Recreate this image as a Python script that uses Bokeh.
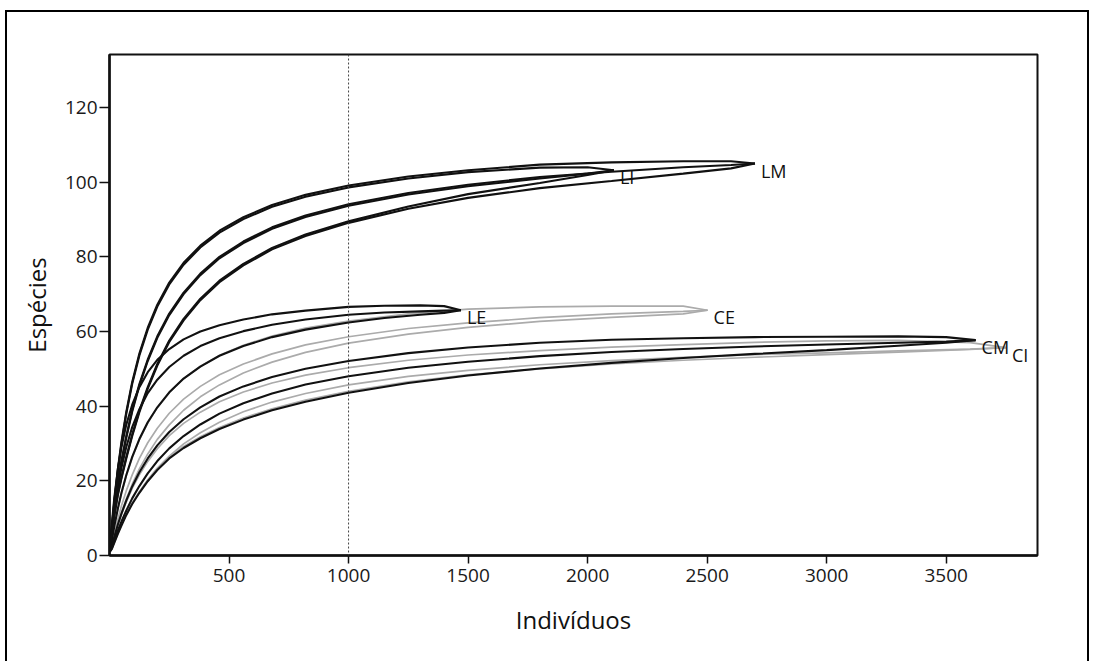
from bokeh.plotting import figure
from bokeh.models import FixedTicker, Span, Range1d, ColumnDataSource
from bokeh.embed import file_html
from bokeh.resources import INLINE
from bokeh.core.properties import value

# ---------------- data ----------------
x_ticks = [500, 1000, 1500, 2000, 2500, 3000, 3500]
y_ticks = [0, 20, 40, 60, 80, 100, 120]
cutoff = 1000

LM_n = [1, 10, 20, 35, 50, 70, 95, 125, 160, 200, 250, 310, 380, 460, 560, 680, 820, 1000, 1250, 1500, 1800, 2100, 2400, 2600, 2700]
LM_upper = [1, 7.8, 14.5, 23.2, 30.4, 38.4, 46.5, 54.1, 61.0, 67.2, 73.1, 78.4, 83.0, 87.0, 90.6, 93.9, 96.6, 99.1, 101.5, 103.2, 104.7, 105.3, 105.6, 105.6, 105.0]
LM_mean = [1, 6.8, 12.5, 19.7, 25.4, 31.9, 39.0, 45.9, 52.5, 58.7, 64.8, 70.4, 75.5, 80.0, 84.1, 87.9, 91.1, 94.1, 97.1, 99.3, 101.4, 102.8, 104.0, 104.6, 105.0]
LM_lower = [1, 5.8, 10.5, 16.2, 20.6, 25.9, 32.0, 38.4, 44.7, 50.9, 57.2, 63.0, 68.4, 73.2, 77.7, 82.0, 85.6, 89.1, 92.9, 95.8, 98.4, 100.3, 102.3, 103.7, 105.0]

LI_n = [1, 10, 20, 35, 50, 70, 95, 125, 160, 200, 250, 310, 380, 460, 560, 680, 820, 1000, 1250, 1500, 1800, 2000, 2110]
LI_upper = [1, 7.3, 14.0, 22.7, 29.9, 37.9, 46.0, 53.6, 60.5, 66.7, 72.6, 77.9, 82.5, 86.5, 90.1, 93.4, 96.1, 98.6, 101.0, 102.7, 103.9, 104.0, 103.2]
LI_mean = [1, 6.4, 12.1, 19.3, 25.0, 31.5, 38.6, 45.5, 52.1, 58.3, 64.4, 70.0, 75.1, 79.6, 83.7, 87.5, 90.7, 93.7, 96.7, 98.9, 101.0, 102.3, 103.2]
LI_lower = [1, 6.2, 10.9, 16.6, 21.0, 26.3, 32.4, 38.8, 45.1, 51.3, 57.6, 63.4, 68.8, 73.6, 78.1, 82.4, 86.0, 89.5, 93.5, 96.8, 99.8, 101.9, 103.2]

LE_n = [1, 10, 20, 35, 50, 70, 95, 125, 160, 200, 250, 310, 380, 460, 560, 680, 820, 1000, 1150, 1300, 1400, 1470]
LE_upper = [1, 8.6, 15.4, 23.1, 29.0, 35.0, 40.4, 45.1, 49.1, 52.4, 55.3, 57.9, 60.0, 61.7, 63.2, 64.6, 65.6, 66.6, 66.9, 67.0, 66.8, 65.7]
LE_mean = [1, 6.4, 11.7, 18.2, 23.5, 29.0, 34.4, 39.2, 43.5, 47.1, 50.5, 53.5, 56.1, 58.2, 60.1, 61.8, 63.2, 64.5, 65.1, 65.4, 65.6, 65.7]
LE_lower = [1, 4.1, 7.8, 12.6, 16.8, 21.5, 26.4, 31.2, 35.7, 39.7, 43.7, 47.4, 50.6, 53.5, 56.1, 58.5, 60.5, 62.4, 63.6, 64.5, 65.0, 65.7]

CE_n = [1, 10, 20, 35, 50, 70, 95, 125, 160, 200, 250, 310, 380, 460, 560, 680, 820, 1000, 1250, 1500, 1800, 2100, 2400, 2502]
CE_upper = [1, 4.0, 7.7, 12.5, 16.6, 21.3, 26.2, 31.0, 35.5, 39.6, 43.6, 47.4, 50.7, 53.6, 56.3, 58.8, 60.9, 62.8, 64.7, 66.0, 66.6, 66.8, 66.8, 65.7]
CE_mean = [1, 3.1, 6.0, 9.8, 13.3, 17.3, 21.6, 26.0, 30.2, 34.1, 38.1, 41.9, 45.3, 48.4, 51.3, 54.0, 56.4, 58.6, 60.8, 62.3, 63.7, 64.7, 65.4, 65.7]
CE_lower = [1, 2.6, 5.1, 8.5, 11.5, 15.1, 19.1, 23.2, 27.2, 31.1, 35.0, 38.9, 42.5, 45.7, 48.9, 51.8, 54.4, 56.9, 59.3, 61.1, 62.7, 63.8, 64.7, 65.7]

CM_n = [1, 10, 20, 35, 50, 70, 95, 125, 160, 200, 250, 310, 380, 460, 560, 680, 820, 1000, 1250, 1500, 1800, 2100, 2400, 2700, 3000, 3300, 3500, 3623]
CM_upper = [1, 2.6, 5.0, 8.3, 11.2, 14.7, 18.5, 22.3, 26.0, 29.5, 33.1, 36.5, 39.7, 42.6, 45.3, 47.8, 50.0, 52.1, 54.2, 55.7, 57.0, 57.8, 58.2, 58.5, 58.6, 58.7, 58.5, 57.7]
CM_mean = [1, 2.1, 4.0, 6.7, 9.1, 12.0, 15.3, 18.6, 22.0, 25.3, 28.7, 32.0, 35.1, 38.0, 40.8, 43.4, 45.8, 48.0, 50.3, 51.9, 53.4, 54.5, 55.3, 56.0, 56.5, 57.0, 57.3, 57.7]
CM_lower = [1, 1.8, 3.4, 5.8, 8.0, 10.8, 13.8, 16.8, 19.9, 22.9, 26.0, 28.8, 31.4, 33.9, 36.4, 38.9, 41.2, 43.6, 46.2, 48.2, 50.1, 51.6, 52.9, 54.0, 55.0, 56.2, 57.0, 57.7]

CI_n = [1, 10, 20, 35, 50, 70, 95, 125, 160, 200, 250, 310, 380, 460, 560, 680, 820, 1000, 1250, 1500, 1800, 2100, 2400, 2700, 3000, 3300, 3600, 3750]
CI_upper = [1, 2.6, 4.9, 8.1, 11.0, 14.3, 18.0, 21.6, 25.2, 28.6, 32.1, 35.4, 38.4, 41.2, 43.8, 46.2, 48.3, 50.3, 52.3, 53.7, 54.9, 55.8, 56.5, 57.1, 57.5, 57.6, 57.0, 55.7]
CI_mean = [1, 1.9, 3.6, 6.0, 8.3, 11.0, 14.0, 17.1, 20.3, 23.4, 26.6, 29.9, 32.9, 35.7, 38.5, 41.1, 43.4, 45.7, 48.0, 49.6, 51.1, 52.2, 53.1, 53.8, 54.3, 54.8, 55.3, 55.7]
CI_lower = [1, 1.8, 3.5, 6.0, 8.2, 11.0, 14.0, 17.0, 20.1, 23.2, 26.3, 29.2, 31.8, 34.3, 36.8, 39.3, 41.6, 44.0, 46.5, 48.4, 50.0, 51.3, 52.3, 53.1, 53.8, 54.5, 55.2, 55.7]

GRAY = "#ababab"
BLACK = "#111111"
sites = [
    ("CE", CE_n, CE_upper, CE_mean, CE_lower, GRAY),
    ("CI", CI_n, CI_upper, CI_mean, CI_lower, GRAY),
    ("LE", LE_n, LE_upper, LE_mean, LE_lower, BLACK),
    ("LI", LI_n, LI_upper, LI_mean, LI_lower, BLACK),
    ("LM", LM_n, LM_upper, LM_mean, LM_lower, BLACK),
    ("CM", CM_n, CM_upper, CM_mean, CM_lower, BLACK),
]

FONT = "Open Sans"

p = figure(frame_width=928, frame_height=501,
           x_range=Range1d(0, 3882), y_range=Range1d(0, 134.2),
           output_backend="svg", toolbar_location=None,
           min_border_left=102, min_border_right=50,
           min_border_top=42, min_border_bottom=106)
p.background_fill_color = "white"
p.border_fill_color = "white"
p.grid.visible = False
p.outline_line_color = BLACK
p.outline_line_width = 2
p.styles = {"margin-left": "5px", "margin-top": "10px",
            "border-left": "2px solid #000", "border-top": "2px solid #000",
            "border-right": "2px solid #000"}

p.xaxis.ticker = FixedTicker(ticks=x_ticks)
p.yaxis.ticker = FixedTicker(ticks=y_ticks)
for ax in (p.xaxis, p.yaxis):
    ax.axis_line_width = 2.5
    ax.axis_line_color = BLACK
    ax.major_tick_line_color = BLACK
    ax.major_tick_line_width = 1.5
    ax.major_tick_in = 0
    ax.minor_tick_in = 0
    ax.minor_tick_out = 0
    ax.major_label_text_font = FONT
    ax.major_label_text_font_size = "19px"
    ax.major_label_text_color = "#1a1a1a"
    ax.axis_label_text_font = FONT
    ax.axis_label_text_font_size = "24px"
    ax.axis_label_text_font_style = "normal"
    ax.axis_label_text_color = BLACK
p.xaxis.major_tick_out = 8
p.yaxis.major_tick_out = 10
p.xaxis.major_label_standoff = 5
p.yaxis.major_label_standoff = 2
p.xaxis.axis_label = "Indivíduos"
p.yaxis.axis_label = "Espécies"
p.xaxis.axis_label_standoff = 18
p.yaxis.axis_label_standoff = 9

p.add_layout(Span(location=cutoff, dimension="height", line_color="#444444",
                  line_width=1, line_dash="2 2"))

lab_x, lab_y, lab_t = [], [], []
for name, n, up, mean, low, col in sites:
    w = 1.7 if col == GRAY else 2.1
    for ys in (up, mean, low):
        p.line(n, ys, line_color=col, line_width=w)
    lab_x.append(n[-1])
    lab_y.append(mean[-1])
    lab_t.append(name)

src = ColumnDataSource(dict(x=lab_x, y=lab_y, t=lab_t))
p.text(x="x", y="y", text="t", source=src, x_offset=6, y_offset=7,
       text_font=value(FONT), text_font_size="18px", text_color=BLACK,
       text_baseline="middle", text_align="left")

open("out.html", "w").write(file_html(p, INLINE))
